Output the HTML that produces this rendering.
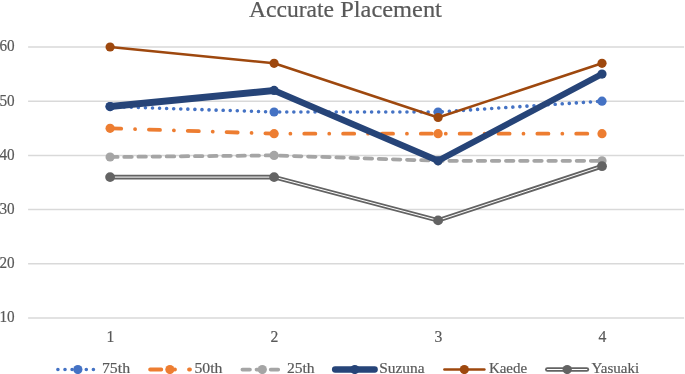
<!DOCTYPE html>
<html><head><meta charset="utf-8"><style>
html,body{margin:0;padding:0;background:#fff;}
svg{display:block}
text{font-family:"Liberation Serif",serif;fill:#595959;stroke:#595959;stroke-width:0.2px}
svg{will-change:transform;opacity:0.999}
</style></head><body>
<svg width="685" height="374" viewBox="0 0 685 374">
<rect width="685" height="374" fill="#fff"/>
<line x1="28.1" x2="684.1" y1="318.0" y2="318.0" stroke="#D9D9D9" stroke-width="1.5"/>
<text x="-0.6" y="322.4" font-size="16" textLength="15.2" lengthAdjust="spacingAndGlyphs">10</text>
<line x1="28.1" x2="684.1" y1="263.8" y2="263.8" stroke="#D9D9D9" stroke-width="1.5"/>
<text x="-0.6" y="268.2" font-size="16" textLength="15.2" lengthAdjust="spacingAndGlyphs">20</text>
<line x1="28.1" x2="684.1" y1="209.6" y2="209.6" stroke="#D9D9D9" stroke-width="1.5"/>
<text x="-0.6" y="214.0" font-size="16" textLength="15.2" lengthAdjust="spacingAndGlyphs">30</text>
<line x1="28.1" x2="684.1" y1="155.4" y2="155.4" stroke="#D9D9D9" stroke-width="1.5"/>
<text x="-0.6" y="159.8" font-size="16" textLength="15.2" lengthAdjust="spacingAndGlyphs">40</text>
<line x1="28.1" x2="684.1" y1="101.2" y2="101.2" stroke="#D9D9D9" stroke-width="1.5"/>
<text x="-0.6" y="105.6" font-size="16" textLength="15.2" lengthAdjust="spacingAndGlyphs">50</text>
<line x1="28.1" x2="684.1" y1="47.0" y2="47.0" stroke="#D9D9D9" stroke-width="1.5"/>
<text x="-0.6" y="51.4" font-size="16" textLength="15.2" lengthAdjust="spacingAndGlyphs">60</text>
<text x="106.55" y="341.55" font-size="16.5" textLength="7.84" lengthAdjust="spacingAndGlyphs">1</text>
<text x="270.55" y="341.55" font-size="16.5" textLength="7.84" lengthAdjust="spacingAndGlyphs">2</text>
<text x="434.50" y="341.55" font-size="16.5" textLength="7.84" lengthAdjust="spacingAndGlyphs">3</text>
<text x="598.45" y="341.55" font-size="16.5" textLength="7.84" lengthAdjust="spacingAndGlyphs">4</text>
<text x="248.9" y="16.5" font-size="23" textLength="85.2" lengthAdjust="spacingAndGlyphs">Accurate</text><text x="340.2" y="16.5" font-size="23" textLength="101.7" lengthAdjust="spacingAndGlyphs">Placement</text>
<polyline points="110.1,106.6 274.1,112.0 438.1,112.0 602.0,101.2" fill="none" stroke="#4472C4" stroke-width="3.6" stroke-dasharray="0.01 7.06" stroke-linecap="round"/><circle cx="110.1" cy="106.6" r="4.6" fill="#4472C4"/><circle cx="274.1" cy="112.0" r="4.6" fill="#4472C4"/><circle cx="438.1" cy="112.0" r="4.6" fill="#4472C4"/><circle cx="602.0" cy="101.2" r="4.6" fill="#4472C4"/>
<polyline points="110.1,128.3 274.1,133.7 438.1,133.7 602.0,133.7" fill="none" stroke="#ED7D31" stroke-width="3.8" stroke-dasharray="11.1 13.87 0.01 13.87" stroke-linecap="round"/><circle cx="110.1" cy="128.3" r="4.6" fill="#ED7D31"/><circle cx="274.1" cy="133.7" r="4.6" fill="#ED7D31"/><circle cx="438.1" cy="133.7" r="4.6" fill="#ED7D31"/><circle cx="602.0" cy="133.7" r="4.6" fill="#ED7D31"/>
<polyline points="110.1,157.0 274.1,155.4 438.1,160.8 602.0,160.8" fill="none" stroke="#A5A5A5" stroke-width="3.75" stroke-dasharray="7.55 6.59" stroke-linecap="round"/><circle cx="110.1" cy="157.0" r="4.6" fill="#A5A5A5"/><circle cx="274.1" cy="155.4" r="4.6" fill="#A5A5A5"/><circle cx="438.1" cy="160.8" r="4.6" fill="#A5A5A5"/><circle cx="602.0" cy="160.8" r="4.6" fill="#A5A5A5"/>
<polygon points="110.1,103.1 274.1,86.9 438.1,157.3 602.0,70.6 602.0,77.6 438.1,164.3 274.1,93.9 110.1,110.1" fill="#264478"/><circle cx="110.1" cy="106.6" r="4.6" fill="#264478"/><circle cx="274.1" cy="90.4" r="4.6" fill="#264478"/><circle cx="438.1" cy="160.8" r="4.6" fill="#264478"/><circle cx="602.0" cy="74.1" r="4.6" fill="#264478"/>
<polyline points="110.1,47.0 274.1,63.3 438.1,117.5 602.0,63.3" fill="none" stroke="#9E480E" stroke-width="2.5" stroke-linejoin="round"/><circle cx="110.1" cy="47.0" r="4.6" fill="#9E480E"/><circle cx="274.1" cy="63.3" r="4.6" fill="#9E480E"/><circle cx="438.1" cy="117.5" r="4.6" fill="#9E480E"/><circle cx="602.0" cy="63.3" r="4.6" fill="#9E480E"/>
<polyline points="110.1,177.1 274.1,177.1 438.1,220.4 602.0,166.2" fill="none" stroke="#636363" stroke-width="4.6" stroke-linejoin="round"/><polyline points="110.1,177.1 274.1,177.1 438.1,220.4 602.0,166.2" fill="none" stroke="#fff" stroke-width="1.0" stroke-linejoin="round"/><circle cx="110.1" cy="177.1" r="4.9" fill="#636363"/><circle cx="274.1" cy="177.1" r="4.9" fill="#636363"/><circle cx="438.1" cy="220.4" r="4.9" fill="#636363"/><circle cx="602.0" cy="166.2" r="4.9" fill="#636363"/>
<line x1="57.9" x2="97.8" y1="369.5" y2="369.5" stroke="#4472C4" stroke-width="3.6" stroke-dasharray="0.01 7.09" stroke-linecap="round"/><circle cx="77.85" cy="369.5" r="4.6" fill="#4472C4"/>
<text x="101.90" y="372.9" font-size="15.3" textLength="28.20" lengthAdjust="spacingAndGlyphs">75th</text>
<line x1="150.1" x2="190.0" y1="369.5" y2="369.5" stroke="#ED7D31" stroke-width="3.8" stroke-dasharray="11.2 13.7 0.01 14.0" stroke-linecap="round"/><circle cx="169.9" cy="369.5" r="4.6" fill="#ED7D31"/>
<text x="194.40" y="372.9" font-size="15.3" textLength="28.00" lengthAdjust="spacingAndGlyphs">50th</text>
<line x1="242.4" x2="282.3" y1="369.5" y2="369.5" stroke="#A5A5A5" stroke-width="3.75" stroke-dasharray="7.55 6.59" stroke-linecap="round"/><circle cx="262.3" cy="369.5" r="4.6" fill="#A5A5A5"/>
<text x="286.90" y="372.9" font-size="15.3" textLength="27.70" lengthAdjust="spacingAndGlyphs">25th</text>
<line x1="335.1" x2="374.7" y1="369.5" y2="369.5" stroke="#264478" stroke-width="6.3" stroke-linecap="round"/><circle cx="354.8" cy="369.5" r="4.6" fill="#264478"/>
<text x="379.20" y="372.9" font-size="15.3" textLength="45.40" lengthAdjust="spacingAndGlyphs">Suzuna</text>
<line x1="444.4" x2="484.4" y1="369.5" y2="369.5" stroke="#9E480E" stroke-width="2.5" stroke-linecap="round"/><circle cx="464.3" cy="369.5" r="4.6" fill="#9E480E"/>
<text x="488.90" y="372.9" font-size="15.3" textLength="38.30" lengthAdjust="spacingAndGlyphs">Kaede</text>
<line x1="547.4" x2="586.8" y1="369.5" y2="369.5" stroke="#636363" stroke-width="4.7" stroke-linecap="round"/><line x1="547.4" x2="586.8" y1="369.5" y2="369.5" stroke="#fff" stroke-width="1.15" stroke-linecap="round"/><circle cx="567.2" cy="369.5" r="4.6" fill="#636363"/>
<text x="591.50" y="372.9" font-size="15.3" textLength="47.70" lengthAdjust="spacingAndGlyphs">Yasuaki</text>
</svg></body></html>
